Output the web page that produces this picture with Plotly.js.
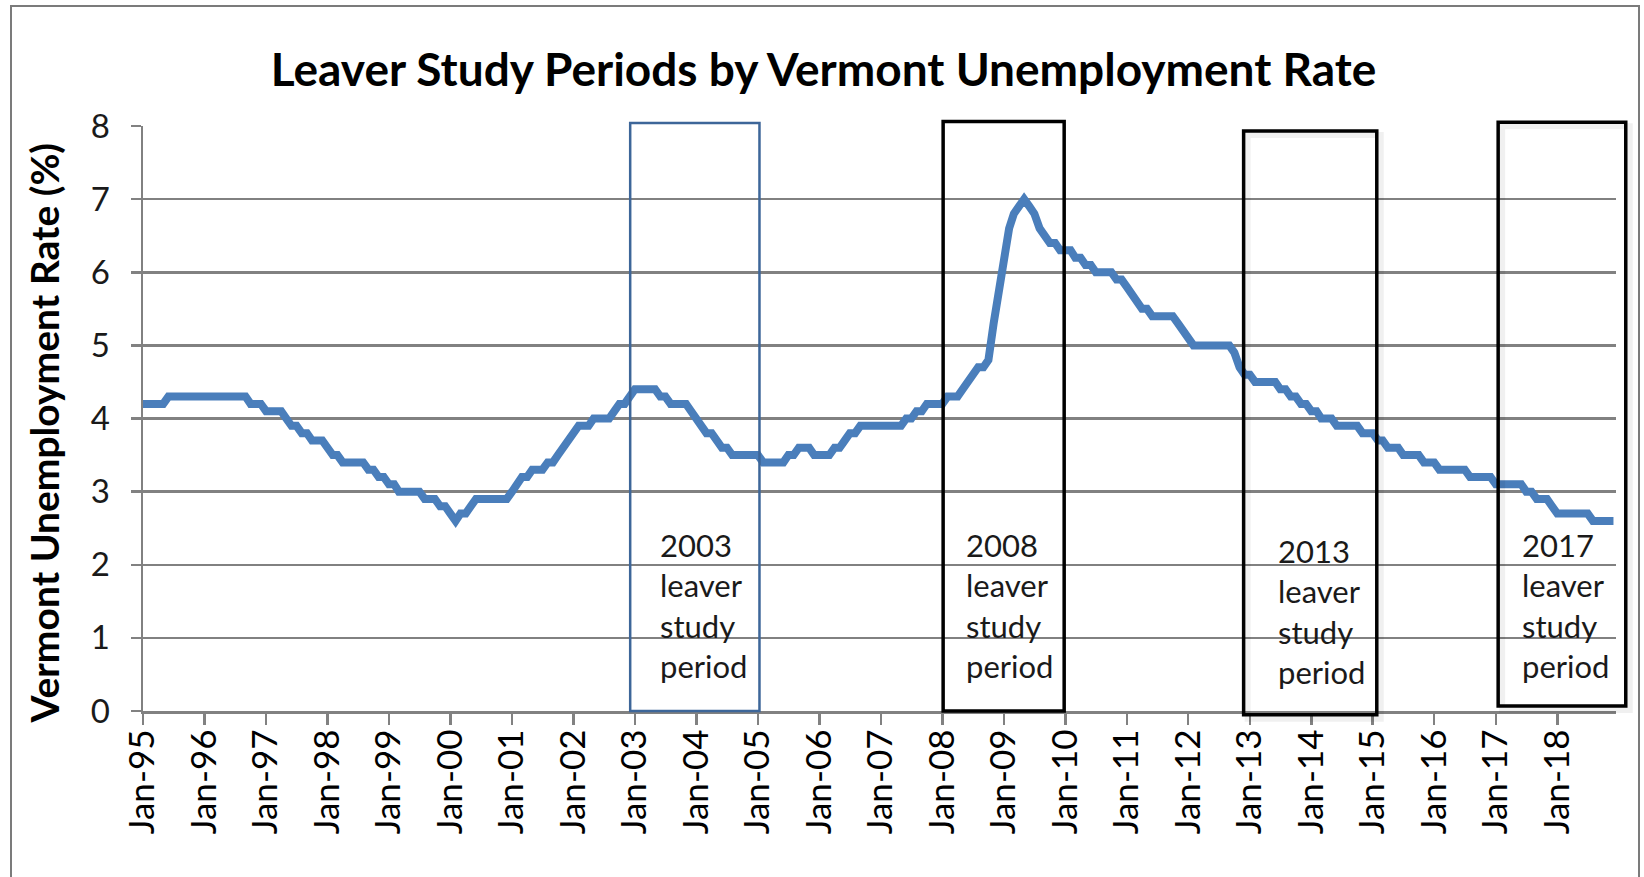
<!DOCTYPE html>
<html>
<head>
<meta charset="utf-8">
<script src="https://cdn.plot.ly/plotly-3.0.1.min.js"></script>
<style>
  html, body { margin: 0; padding: 0; background: #ffffff; }
  #wrap { position: relative; width: 1644px; height: 877px; overflow: hidden; }
  #chart { width: 1644px; height: 877px; }
  #frame { position: absolute; left: 10px; top: 5px; width: 1626px; height: 900px;
           border: 2px solid #7b7b7b; pointer-events: none; }
</style>
</head>
<body>
<div id="wrap"><div id="chart"></div><div id="frame"></div></div>
<script>
// ---------------- data ----------------
const chartTitle = 'Leaver Study Periods by Vermont Unemployment Rate';
const yAxisTitle = 'Vermont Unemployment Rate (%)';
const firstYear = 1995;

// monthly Vermont unemployment rate (%), Jan..Dec of each year
const rate1995 = [4.2, 4.2, 4.2, 4.2, 4.2, 4.3, 4.3, 4.3, 4.3, 4.3, 4.3, 4.3];
const rate1996 = [4.3, 4.3, 4.3, 4.3, 4.3, 4.3, 4.3, 4.3, 4.3, 4.2, 4.2, 4.2];
const rate1997 = [4.1, 4.1, 4.1, 4.1, 4.0, 3.9, 3.9, 3.8, 3.8, 3.7, 3.7, 3.7];
const rate1998 = [3.6, 3.5, 3.5, 3.4, 3.4, 3.4, 3.4, 3.4, 3.3, 3.3, 3.2, 3.2];
const rate1999 = [3.1, 3.1, 3.0, 3.0, 3.0, 3.0, 3.0, 2.9, 2.9, 2.9, 2.8, 2.8];
const rate2000 = [2.7, 2.6, 2.7, 2.7, 2.8, 2.9, 2.9, 2.9, 2.9, 2.9, 2.9, 2.9];
const rate2001 = [3.0, 3.1, 3.2, 3.2, 3.3, 3.3, 3.3, 3.4, 3.4, 3.5, 3.6, 3.7];
const rate2002 = [3.8, 3.9, 3.9, 3.9, 4.0, 4.0, 4.0, 4.0, 4.1, 4.2, 4.2, 4.3];
const rate2003 = [4.4, 4.4, 4.4, 4.4, 4.4, 4.3, 4.3, 4.2, 4.2, 4.2, 4.2, 4.1];
const rate2004 = [4.0, 3.9, 3.8, 3.8, 3.7, 3.6, 3.6, 3.5, 3.5, 3.5, 3.5, 3.5];
const rate2005 = [3.5, 3.4, 3.4, 3.4, 3.4, 3.4, 3.5, 3.5, 3.6, 3.6, 3.6, 3.5];
const rate2006 = [3.5, 3.5, 3.5, 3.6, 3.6, 3.7, 3.8, 3.8, 3.9, 3.9, 3.9, 3.9];
const rate2007 = [3.9, 3.9, 3.9, 3.9, 3.9, 4.0, 4.0, 4.1, 4.1, 4.2, 4.2, 4.2];
const rate2008 = [4.2, 4.3, 4.3, 4.3, 4.4, 4.5, 4.6, 4.7, 4.7, 4.8, 5.3, 5.7];
const rate2009 = [6.1, 6.6, 6.8, 6.9, 7.0, 6.9, 6.8, 6.6, 6.5, 6.4, 6.4, 6.3];
const rate2010 = [6.3, 6.3, 6.2, 6.2, 6.1, 6.1, 6.0, 6.0, 6.0, 6.0, 5.9, 5.9];
const rate2011 = [5.8, 5.7, 5.6, 5.5, 5.5, 5.4, 5.4, 5.4, 5.4, 5.4, 5.3, 5.2];
const rate2012 = [5.1, 5.0, 5.0, 5.0, 5.0, 5.0, 5.0, 5.0, 5.0, 4.9, 4.7, 4.6];
const rate2013 = [4.6, 4.5, 4.5, 4.5, 4.5, 4.5, 4.4, 4.4, 4.3, 4.3, 4.2, 4.2];
const rate2014 = [4.1, 4.1, 4.0, 4.0, 4.0, 3.9, 3.9, 3.9, 3.9, 3.9, 3.8, 3.8];
const rate2015 = [3.8, 3.7, 3.7, 3.6, 3.6, 3.6, 3.5, 3.5, 3.5, 3.5, 3.4, 3.4];
const rate2016 = [3.4, 3.3, 3.3, 3.3, 3.3, 3.3, 3.3, 3.2, 3.2, 3.2, 3.2, 3.2];
const rate2017 = [3.1, 3.1, 3.1, 3.1, 3.1, 3.1, 3.0, 3.0, 2.9, 2.9, 2.9, 2.8];
const rate2018 = [2.7, 2.7, 2.7, 2.7, 2.7, 2.7, 2.7, 2.6, 2.6, 2.6, 2.6, 2.6];

const yearlyRates = [rate1995, rate1996, rate1997, rate1998, rate1999, rate2000,
  rate2001, rate2002, rate2003, rate2004, rate2005, rate2006, rate2007, rate2008,
  rate2009, rate2010, rate2011, rate2012, rate2013, rate2014, rate2015, rate2016,
  rate2017, rate2018];

// leaver study periods (boxes drawn over the chart)
const studyYears = ['2003', '2008', '2013', '2017'];
const boxStart = ['2002-12-04', '2008-01-06', '2012-11-25', '2017-01-15'];
const boxEnd   = ['2005-01-10', '2009-12-25', '2015-01-25', '2019-02-12'];

// ---------------- build ----------------
const months = [];
const rates = [];
yearlyRates.forEach((arr, yi) => {
  arr.forEach((v, mi) => {
    const mm = String(mi + 1).padStart(2, '0');
    months.push((firstYear + yi) + '-' + mm + '-01');
    rates.push(v);
  });
});

const xRange = ['1995-01-01', '2018-12-16'];
const t0 = Date.parse(xRange[0]);
const t1 = Date.parse(xRange[1]);
const toPaperX = d => (Date.parse(d) - t0) / (t1 - t0);

const margin = { l: 143, r: 28, t: 126, b: 166 };
const plotW = 1644 - margin.l - margin.r;
const plotH = 877 - margin.t - margin.b;
const yMax = 8;

// box geometry (layout)
const boxTop    = [8.04, 8.06, 7.93, 8.05];
const boxBottom = [0.0, 0.0, -0.05, 0.07];
const boxColor  = ['#3d6699', '#000000', '#000000', '#000000'];
const boxWidth  = [2.5, 3.5, 3.5, 3.5];
const boxShadow = [false, false, true, true];
const labelShift = [28, 21, 32, 22];
const labelYShift = [106, 106, 100, 106];

const fontFam = 'Lato, "Open Sans", sans-serif';
const shapes = [];
const annotations = [];
studyYears.forEach((yr, i) => {
  const x0 = toPaperX(boxStart[i]);
  const x1 = toPaperX(boxEnd[i]);
  const y0 = boxBottom[i] / yMax;
  const y1 = boxTop[i] / yMax;
  if (boxShadow[i]) {
    const dx = 4 / plotW, dy = 4 / plotH;
    shapes.push({ type: 'rect', xref: 'paper', yref: 'paper',
      x0: x0 + dx, x1: x1 + dx, y0: y0 - dy, y1: y1 - dy,
      line: { color: 'rgba(0,0,0,0.06)', width: 6 }, fillcolor: 'rgba(0,0,0,0)', layer: 'above' });
  }
  shapes.push({ type: 'rect', xref: 'paper', yref: 'paper', x0: x0, x1: x1, y0: y0, y1: y1,
    line: { color: boxColor[i], width: boxWidth[i] }, fillcolor: 'rgba(0,0,0,0)', layer: 'above' });
  annotations.push({ xref: 'paper', yref: 'paper', x: x0, y: 0, xanchor: 'left', yanchor: 'middle',
    xshift: labelShift[i], yshift: labelYShift[i], align: 'left', showarrow: false,
    text: yr + '<br>leaver<br>study<br>period',
    font: { family: fontFam, size: 31, color: '#1a1a1a' } });
});

// y axis title as rotated annotation
annotations.push({ xref: 'paper', yref: 'paper', x: 0, y: 0.5, xanchor: 'center', yanchor: 'middle',
  xshift: -100, yshift: -15, textangle: -90, showarrow: false, text: yAxisTitle,
  font: { family: fontFam, size: 39, color: '#000000', weight: 'bold' } });

const trace = {
  x: months, y: rates, type: 'scatter', mode: 'lines',
  line: { color: '#4a7ebb', width: 8 }, hoverinfo: 'skip'
};

const gridCol = '#818181';
const layout = {
  width: 1644, height: 877, margin: margin,
  paper_bgcolor: '#ffffff', plot_bgcolor: '#ffffff', showlegend: false, hovermode: false,
  title: { text: '<b>' + chartTitle + '</b>', xref: 'paper', x: 0.462, xanchor: 'center',
           yref: 'container', y: 1 - 70 / 877, yanchor: 'middle',
           font: { family: fontFam, size: 46, color: '#000000' } },
  xaxis: {
    type: 'date', range: xRange, tick0: '1995-01-01', dtick: 'M12', tickformat: '%b-%y',
    tickangle: -90, showgrid: false, zeroline: false,
    showline: true, linecolor: gridCol, linewidth: 2.5,
    ticks: 'outside', ticklen: 11, tickwidth: 2.5, tickcolor: gridCol, ticklabelstandoff: -9,
    tickfont: { family: fontFam, size: 35, color: '#000000' }
  },
  yaxis: {
    range: [0, yMax], dtick: 1, tick0: 0, showgrid: true, gridcolor: gridCol, gridwidth: 2.5,
    zeroline: false, showline: true, linecolor: gridCol, linewidth: 2.5,
    ticks: 'outside', ticklen: 10, tickwidth: 2.5, tickcolor: gridCol, ticklabelstandoff: 14,
    tickfont: { family: fontFam, size: 33, color: '#1a1a1a' }
  },
  shapes: shapes,
  annotations: annotations
};

Plotly.newPlot('chart', [trace], layout, { staticPlot: true, displayModeBar: false });
</script>
</body>
</html>
